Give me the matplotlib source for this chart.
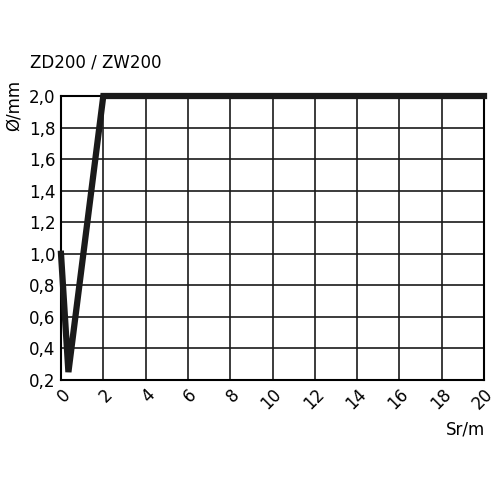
import matplotlib
matplotlib.use("Agg")
import matplotlib.pyplot as plt

sr = [0, 0.35, 2.0, 20]
dia = [1.0, 0.25, 2.0, 2.0]
xticks = list(range(0, 21, 2))
yticks = [0.2, 0.4, 0.6, 0.8, 1.0, 1.2, 1.4, 1.6, 1.8, 2.0]

fig = plt.figure(figsize=(5, 5), dpi=100)
ax = fig.add_axes([0.122, 0.24, 0.846, 0.568])
ax.plot(sr, dia, color="#1a1a1a", lw=4.5, solid_joinstyle="miter", clip_on=False, zorder=3)
ax.set_xlim(0, 20)
ax.set_ylim(0.2, 2.0)
ax.set_xticks(xticks)
ax.set_yticks(yticks)
ax.set_xticklabels([str(t) for t in xticks], rotation=45, ha="right", rotation_mode="anchor", fontsize=12)
ax.set_yticklabels([f"{t:.1f}".replace(".", ",") for t in yticks], fontsize=12)
ax.grid(True, color="#1a1a1a", lw=1.2)
for s in ax.spines.values():
    s.set_linewidth(1.5)
ax.tick_params(length=0, pad=4)
fig.text(0.06, 0.865, "ZD200 / ZW200", fontsize=12)
fig.text(0.028, 0.79, "Ø/mm", fontsize=12, rotation=90, ha="center", va="center")
fig.text(0.97, 0.13, "Sr/m", fontsize=12, ha="right")
fig.savefig("out.png", dpi=100, facecolor="white")
